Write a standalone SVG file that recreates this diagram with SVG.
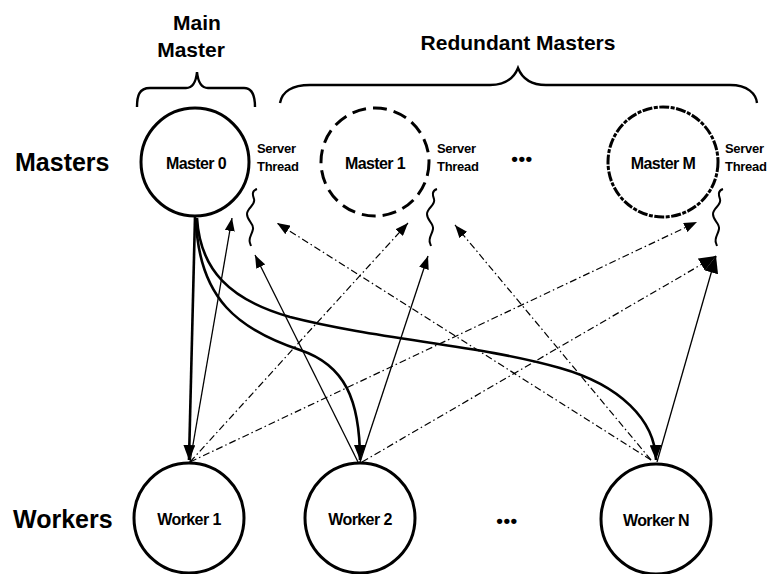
<svg xmlns="http://www.w3.org/2000/svg" width="771" height="574" viewBox="0 0 771 574">
<style>
.lbl{font-family:"Liberation Sans",Arial,sans-serif;font-weight:bold;fill:#000}
.big{font-size:25px}
.hdr{font-size:21px;text-anchor:middle}
.node{font-size:16px;text-anchor:middle;letter-spacing:-0.6px}
.st{font-size:13px;letter-spacing:-0.3px}
.dots{font-size:19px;text-anchor:middle;letter-spacing:0.5px}
.circ{fill:#fff;stroke:#000;stroke-width:3}
.thick{fill:none;stroke:#000;stroke-width:2.6}
.thin{fill:none;stroke:#000;stroke-width:1.3}
.dd{fill:none;stroke:#000;stroke-width:1.2;stroke-dasharray:7,3,1.5,3}
.wave{fill:none;stroke:#000;stroke-width:2}
.brace{fill:none;stroke:#000;stroke-width:2.4}
</style>
<defs>
<marker id="ah" markerUnits="userSpaceOnUse" markerWidth="15" markerHeight="12" viewBox="0 0 15 12" refX="15" refY="6" orient="auto"><path d="M0,0 L15,6 L0,12 Z" fill="#000"/></marker>
<marker id="ahs" markerUnits="userSpaceOnUse" markerWidth="13" markerHeight="10" viewBox="0 0 13 10" refX="13" refY="5" orient="auto"><path d="M0,0 L13,5 L0,10 Z" fill="#000"/></marker>
<marker id="ahb" markerUnits="userSpaceOnUse" markerWidth="17" markerHeight="14" viewBox="0 0 17 14" refX="17" refY="7" orient="auto"><path d="M0,0 L17,7 L0,14 Z" fill="#000"/></marker>
</defs>
<rect width="771" height="574" fill="#fff"/>

<g id="labels">
<text class="lbl big" x="15" y="171">Masters</text>
<text class="lbl big" x="13" y="528">Workers</text>
<text class="lbl hdr" x="197" y="30">Main</text>
<text class="lbl hdr" x="191" y="57">Master</text>
<text class="lbl hdr" x="518" y="50">Redundant Masters</text>
<path class="brace" d="M137,107 C137,96 139,88 150,88 L186,88 C193,88 196,82 197,72 C198,82 201,88 208,88 L244,88 C252,88 255,96 255,107"/>
<path class="brace" d="M280,103 C282,92 292,85 310,85 L490,85 C506,85 514,78 518,68 C522,78 530,85 546,85 L730,85 C748,85 756,94 757,103"/>
<text class="lbl dots" x="522" y="165">•••</text>
<text class="lbl dots" x="507" y="527">•••</text>
</g>

<g id="connectors">
<path class="thick" d="M195,217 L189,460" marker-end="url(#ah)"/>
<path class="thin" d="M190,462 L232,218" marker-end="url(#ahs)"/>
<path class="thick" d="M196,218 C198,300 240,330 300,350 C345,365 360,400 360,460" marker-end="url(#ah)"/>
<path class="thick" d="M197,218 C200,270 230,300 290,317 C380,340 480,345 560,368 C620,385 655,420 656,460" marker-end="url(#ah)"/>
<path class="thin" d="M358,462 L255,255" marker-end="url(#ahs)"/>
<path class="thin" d="M360,462 L428,256" marker-end="url(#ahs)"/>
<path class="thin" d="M657,462 L716,256" marker-end="url(#ahb)"/>
<path class="dd" d="M190,462 L408,223" marker-end="url(#ahs)"/>
<path class="dd" d="M190,462 L697,222" marker-end="url(#ahs)"/>
<path class="dd" d="M651,460 L277,223" marker-end="url(#ahs)"/>
<path class="dd" d="M651,460 L455,225" marker-end="url(#ahs)"/>
<path class="dd" d="M362,462 L716,256" marker-end="url(#ahb)"/>
</g>

<g id="master0">
<circle class="circ" cx="195" cy="162" r="54"/>
<text class="lbl node" x="196" y="169">Master 0</text>
</g>
<g id="thread0">
<text class="lbl st" x="257" y="153">Server</text>
<text class="lbl st" x="257" y="171">Thread</text>
<path class="wave" d="M257,189 C251,191 253,196 254,199 C256,205 247,208 247,214 C247,221 254,223 253,229 C252,235 248,238 250,243 L251,246"/>
</g>
<g id="master1">
<circle class="circ" cx="375" cy="162" r="54" stroke-dasharray="14,7"/>
<text class="lbl node" x="375" y="169">Master 1</text>
</g>
<g id="thread1">
<text class="lbl st" x="437" y="153">Server</text>
<text class="lbl st" x="437" y="171">Thread</text>
<path class="wave" d="M437,189 C431,191 433,196 434,199 C436,205 427,208 427,214 C427,221 434,223 433,229 C432,235 428,238 430,243 L431,246"/>
</g>
<g id="masterM">
<circle class="circ" cx="663" cy="162" r="55" stroke-dasharray="10,1.5,4,1.5"/>
<text class="lbl node" x="663" y="169">Master M</text>
</g>
<g id="threadM">
<text class="lbl st" x="725" y="153">Server</text>
<text class="lbl st" x="725" y="171">Thread</text>
<path class="wave" d="M723,189 C717,191 719,196 720,199 C722,205 713,208 713,214 C713,221 720,223 719,229 C718,235 714,238 716,243 L717,246"/>
</g>

<g id="worker1">
<circle class="circ" cx="189" cy="518" r="55"/>
<text class="lbl node" x="189" y="525">Worker 1</text>
</g>
<g id="worker2">
<circle class="circ" cx="360" cy="518" r="55"/>
<text class="lbl node" x="360" y="525">Worker 2</text>
</g>
<g id="workerN">
<circle class="circ" cx="656" cy="519" r="55"/>
<text class="lbl node" x="656" y="526">Worker N</text>
</g>
</svg>
